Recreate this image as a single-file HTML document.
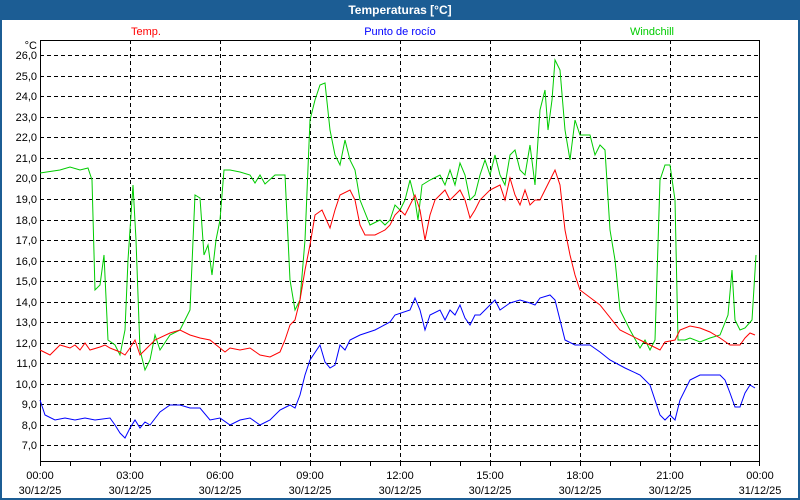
<!DOCTYPE html>
<html><head><meta charset="utf-8"><style>
html,body{margin:0;padding:0;background:#fff}
svg{display:block;font-family:"Liberation Sans","DejaVu Sans",sans-serif}
</style></head><body>
<svg width="800" height="500" viewBox="0 0 800 500" xmlns="http://www.w3.org/2000/svg">
<rect x="0" y="0" width="800" height="500" fill="#1c5d94"/>
<rect x="2" y="20" width="796" height="478" fill="#fff"/>
<text x="400" y="14" text-anchor="middle" fill="#fff" font-size="12" font-weight="bold">Temperaturas [°C]</text>
<text x="146" y="35" text-anchor="middle" fill="#ff0000" font-size="11">Temp.</text>
<text x="400" y="35" text-anchor="middle" fill="#0000ff" font-size="11">Punto de rocío</text>
<text x="652" y="35" text-anchor="middle" fill="#00cc00" font-size="11">Windchill</text>
<g stroke="#000" stroke-width="1" stroke-dasharray="4,3" shape-rendering="crispEdges">
<line x1="40" y1="55.5" x2="760" y2="55.5"/><line x1="40" y1="76.5" x2="760" y2="76.5"/><line x1="40" y1="96.5" x2="760" y2="96.5"/><line x1="40" y1="117.5" x2="760" y2="117.5"/><line x1="40" y1="137.5" x2="760" y2="137.5"/><line x1="40" y1="158.5" x2="760" y2="158.5"/><line x1="40" y1="178.5" x2="760" y2="178.5"/><line x1="40" y1="199.5" x2="760" y2="199.5"/><line x1="40" y1="220.5" x2="760" y2="220.5"/><line x1="40" y1="240.5" x2="760" y2="240.5"/><line x1="40" y1="261.5" x2="760" y2="261.5"/><line x1="40" y1="281.5" x2="760" y2="281.5"/><line x1="40" y1="302.5" x2="760" y2="302.5"/><line x1="40" y1="322.5" x2="760" y2="322.5"/><line x1="40" y1="343.5" x2="760" y2="343.5"/><line x1="40" y1="363.5" x2="760" y2="363.5"/><line x1="40" y1="384.5" x2="760" y2="384.5"/><line x1="40" y1="404.5" x2="760" y2="404.5"/><line x1="40" y1="425.5" x2="760" y2="425.5"/><line x1="40" y1="445.5" x2="760" y2="445.5"/>
<line x1="130.5" y1="40" x2="130.5" y2="461"/><line x1="220.5" y1="40" x2="220.5" y2="461"/><line x1="310.5" y1="40" x2="310.5" y2="461"/><line x1="400.5" y1="40" x2="400.5" y2="461"/><line x1="490.5" y1="40" x2="490.5" y2="461"/><line x1="580.5" y1="40" x2="580.5" y2="461"/><line x1="670.5" y1="40" x2="670.5" y2="461"/>
</g>
<rect x="40.5" y="40.5" width="719" height="421" fill="none" stroke="#000" stroke-width="1" shape-rendering="crispEdges"/>
<g stroke="#000" shape-rendering="crispEdges">
<line x1="70.5" y1="461" x2="70.5" y2="466"/><line x1="100.5" y1="461" x2="100.5" y2="466"/><line x1="130.5" y1="461" x2="130.5" y2="466"/><line x1="160.5" y1="461" x2="160.5" y2="466"/><line x1="190.5" y1="461" x2="190.5" y2="466"/><line x1="220.5" y1="461" x2="220.5" y2="466"/><line x1="250.5" y1="461" x2="250.5" y2="466"/><line x1="280.5" y1="461" x2="280.5" y2="466"/><line x1="310.5" y1="461" x2="310.5" y2="466"/><line x1="340.5" y1="461" x2="340.5" y2="466"/><line x1="370.5" y1="461" x2="370.5" y2="466"/><line x1="400.5" y1="461" x2="400.5" y2="466"/><line x1="430.5" y1="461" x2="430.5" y2="466"/><line x1="460.5" y1="461" x2="460.5" y2="466"/><line x1="490.5" y1="461" x2="490.5" y2="466"/><line x1="520.5" y1="461" x2="520.5" y2="466"/><line x1="550.5" y1="461" x2="550.5" y2="466"/><line x1="580.5" y1="461" x2="580.5" y2="466"/><line x1="610.5" y1="461" x2="610.5" y2="466"/><line x1="640.5" y1="461" x2="640.5" y2="466"/><line x1="670.5" y1="461" x2="670.5" y2="466"/><line x1="700.5" y1="461" x2="700.5" y2="466"/><line x1="730.5" y1="461" x2="730.5" y2="466"/><line x1="40.5" y1="461" x2="40.5" y2="466"/><line x1="759.5" y1="461" x2="759.5" y2="466"/>
</g>
<g font-size="11" fill="#000" text-anchor="end">
<text x="37" y="49">°C</text>
<text x="37" y="59">26,0</text><text x="37" y="80">25,0</text><text x="37" y="100">24,0</text><text x="37" y="121">23,0</text><text x="37" y="141">22,0</text><text x="37" y="162">21,0</text><text x="37" y="182">20,0</text><text x="37" y="203">19,0</text><text x="37" y="224">18,0</text><text x="37" y="244">17,0</text><text x="37" y="265">16,0</text><text x="37" y="285">15,0</text><text x="37" y="306">14,0</text><text x="37" y="326">13,0</text><text x="37" y="347">12,0</text><text x="37" y="367">11,0</text><text x="37" y="388">10,0</text><text x="37" y="408">9,0</text><text x="37" y="429">8,0</text><text x="37" y="449">7,0</text>
</g>
<g font-size="11" fill="#000" text-anchor="middle">
<text x="40" y="479">00:00</text><text x="40" y="494">30/12/25</text>
<text x="130" y="479">03:00</text><text x="130" y="494">30/12/25</text>
<text x="220" y="479">06:00</text><text x="220" y="494">30/12/25</text>
<text x="310" y="479">09:00</text><text x="310" y="494">30/12/25</text>
<text x="400" y="479">12:00</text><text x="400" y="494">30/12/25</text>
<text x="490" y="479">15:00</text><text x="490" y="494">30/12/25</text>
<text x="580" y="479">18:00</text><text x="580" y="494">30/12/25</text>
<text x="670" y="479">21:00</text><text x="670" y="494">30/12/25</text>
<text x="760" y="479">00:00</text><text x="760" y="494">31/12/25</text>
</g>
<g fill="none" stroke-width="1">
<polyline stroke="#00cc00" points="40,173 60,170 70,167 80,170 88,168 92,180 95,290 100,285 104,255 108,340 115,345 120,355 125,330 128,260 133,185 136,240 140,350 145,370 150,360 155,335 160,350 170,335 180,330 190,310 195,195 200,198 204,255 208,245 212,275 216,240 220,220 224,170 230,170 240,172 250,175 255,183 260,175 265,184 275,175 285,175 290,280 295,310 300,300 305,240 310,120 315,100 320,85 325,83 330,130 335,155 340,165 345,140 350,160 355,170 360,200 370,225 380,220 385,225 390,220 395,205 400,210 405,200 410,180 415,200 418,220 422,185 430,180 440,175 445,185 450,170 455,185 460,163 465,175 470,200 475,195 480,175 485,160 490,175 495,155 500,175 505,185 510,155 515,150 520,170 525,175 530,145 535,185 540,110 545,90 548,130 552,100 555,60 560,70 565,130 570,160 575,120 580,135 590,135 595,155 600,145 605,150 610,230 615,260 620,310 630,330 640,348 645,340 650,350 655,340 660,180 665,165 670,165 675,200 678,340 685,340 690,338 700,342 710,338 720,335 728,315 732,270 735,320 740,330 745,328 752,320 756,255"/>
<polyline stroke="#ff0000" points="40,350 50,355 60,345 70,348 75,345 80,350 85,343 90,350 100,347 105,345 110,348 120,352 125,355 130,348 135,340 140,355 145,350 155,340 170,333 180,330 190,335 200,338 210,340 220,348 225,352 230,348 240,350 250,348 260,355 270,357 280,352 285,340 290,325 295,320 300,300 305,270 310,245 315,215 322,210 330,228 335,210 340,195 350,190 355,200 360,225 365,235 375,235 385,230 390,225 395,215 400,210 405,215 410,205 415,195 420,210 425,240 430,215 435,200 440,195 445,190 450,200 455,195 460,190 465,200 470,218 475,210 480,200 490,190 500,185 505,200 510,178 515,195 520,205 525,190 530,205 535,200 540,200 545,190 550,180 555,170 560,185 565,230 570,255 575,275 580,290 600,305 620,330 640,340 650,345 660,350 665,342 675,340 680,330 690,326 700,328 710,332 720,338 730,345 740,345 745,338 750,333 755,335"/>
<polyline stroke="#0000ff" points="40,400 45,415 55,420 65,418 75,420 85,418 95,420 110,418 115,425 120,433 125,438 130,428 135,420 140,428 145,422 150,425 160,412 170,405 180,405 190,408 200,408 210,420 220,418 230,425 240,420 250,418 260,425 270,420 280,410 290,405 295,408 300,395 305,375 310,360 320,345 325,362 330,368 335,365 340,345 345,350 350,340 360,335 375,330 390,322 395,315 410,310 415,298 420,310 425,330 430,315 440,310 445,320 450,310 455,315 460,305 465,318 470,325 475,315 480,315 490,305 495,300 500,310 510,303 520,300 530,303 535,305 540,298 550,295 555,300 560,320 565,340 575,345 590,345 600,352 610,360 625,368 640,375 650,385 660,415 665,420 670,415 675,420 680,400 690,380 700,375 710,375 720,375 725,380 730,393 735,407 740,407 745,393 750,385 755,388"/>
</g>
</svg>
</body></html>
